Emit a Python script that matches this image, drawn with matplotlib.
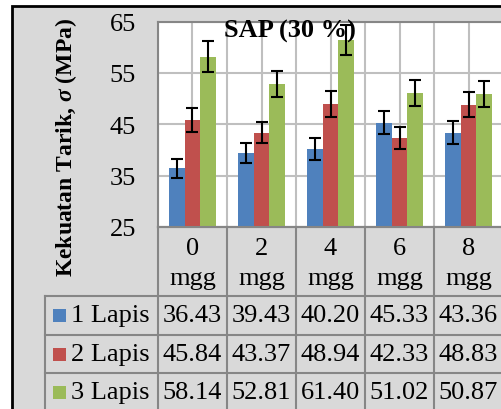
import matplotlib
matplotlib.use("Agg")
import matplotlib.pyplot as plt
import matplotlib.patches as mpatches
from matplotlib.lines import Line2D
from matplotlib.transforms import blended_transform_factory
import numpy as np

# data
categories = ["0\nmgg", "2\nmgg", "4\nmgg", "6\nmgg", "8\nmgg"]
series_names = ["1 Lapis", "2 Lapis", "3 Lapis"]
lapis1 = [36.43, 39.43, 40.20, 45.33, 43.36]
lapis2 = [45.84, 43.37, 48.94, 42.33, 48.83]
lapis3 = [58.14, 52.81, 61.40, 51.02, 50.87]
err1 = [1.8, 2.0, 2.1, 2.3, 2.2]
err2 = [2.3, 2.1, 2.5, 2.1, 2.4]
err3 = [3.0, 2.6, 3.0, 2.5, 2.5]
colors = ["#4F81BD", "#C0504D", "#9BBB59"]

W, H = 502, 410
plt.rcParams["font.family"] = "Liberation Serif"
plt.rcParams["mathtext.fontset"] = "custom"
plt.rcParams["mathtext.it"] = "Liberation Serif:italic:bold"
plt.rcParams["mathtext.rm"] = "Liberation Serif:bold"

def fx(x):
    return x / W

def fy(y):
    return 1 - y / H

fig = plt.figure(figsize=(W / 100, H / 100), dpi=100)
fig.patch.set_facecolor("white")

# chart area background
bg = mpatches.Rectangle((fx(12), fy(520)), fx(600), 513 / H, transform=fig.transFigure,
                        facecolor="#D9D9D9", edgecolor="black", linewidth=2, zorder=-5)
fig.add_artist(bg)

ax = fig.add_axes([fx(158), fy(228), fx(503) - fx(158), (228 - 22.5) / H])
ax.set_facecolor("white")

x = np.arange(len(categories))
bw = 0.225
ekw = dict(ecolor="black", elinewidth=1.5, capsize=4.5, capthick=1.5)
for i, (vals, errs) in enumerate(zip([lapis1, lapis2, lapis3], [err1, err2, err3])):
    ax.bar(x + (i - 1) * bw, vals, bw, yerr=errs, color=colors[i],
           error_kw=ekw, zorder=3)

ax.set_ylim(25, 65)
ax.set_xlim(-0.5, len(categories) - 0.5)
ax.set_yticks([25, 35, 45, 55, 65])
ax.set_xticks(np.arange(-0.5, len(categories), 0.5))
ax.set_xticklabels([])
ax.tick_params(axis="both", length=0)
ax.tick_params(axis="y", labelsize=19, pad=16)
ax.grid(True, color="#BFBFBF", linewidth=1.5, zorder=0)
ax.set_axisbelow(True)
for s in ["left", "top", "bottom"]:
    ax.spines[s].set_color("#868686")
    ax.spines[s].set_linewidth(1.5)
ax.spines["right"].set_visible(False)

fig.text(fx(290), fy(31), "SAP (30 %)", fontsize=19, fontweight="bold",
         ha="center", va="center", zorder=10)
fig.text(fx(66), fy(147), r"Kekuatan Tarik, $\sigma$ (MPa)", fontsize=17,
         fontweight="bold", rotation=90, ha="center", va="center")

# data table
tr = blended_transform_factory(ax.transData, fig.transFigure)
lc = "#868686"
row_y = [297, 336, 374, 413]
n = len(categories)
for y in [228] + row_y:
    fig.add_artist(Line2D([fx(158) if y == 228 else fx(45), 1.05], [fy(y), fy(y)],
                          color=lc, linewidth=1.5, transform=fig.transFigure))
fig.add_artist(Line2D([fx(45), fx(45)], [fy(297), fy(420)], color=lc, linewidth=1.5,
                      transform=fig.transFigure))
for k in range(n + 1):
    fig.add_artist(Line2D([k - 0.5, k - 0.5], [fy(228), fy(420)], color=lc,
                          linewidth=1.5, transform=tr))

for k, c in enumerate(categories):
    fig.text(k, fy(264), c, transform=tr, fontsize=19, ha="center", va="center",
             linespacing=1.45)

for r, (name, vals) in enumerate(zip(series_names, [lapis1, lapis2, lapis3])):
    yc = (row_y[r] + row_y[r + 1]) / 2
    fig.add_artist(mpatches.Rectangle((fx(53), fy(yc + 6.5)), fx(13.5), 13 / H,
                                      transform=fig.transFigure, facecolor=colors[r],
                                      edgecolor="none"))
    fig.text(fx(71), fy(yc), name, fontsize=19, ha="left", va="center")
    for k, v in enumerate(vals):
        fig.text(k, fy(yc), f"{v:.2f}", transform=tr, fontsize=19,
                 ha="center", va="center")

fig.savefig("out.png", dpi=100)
